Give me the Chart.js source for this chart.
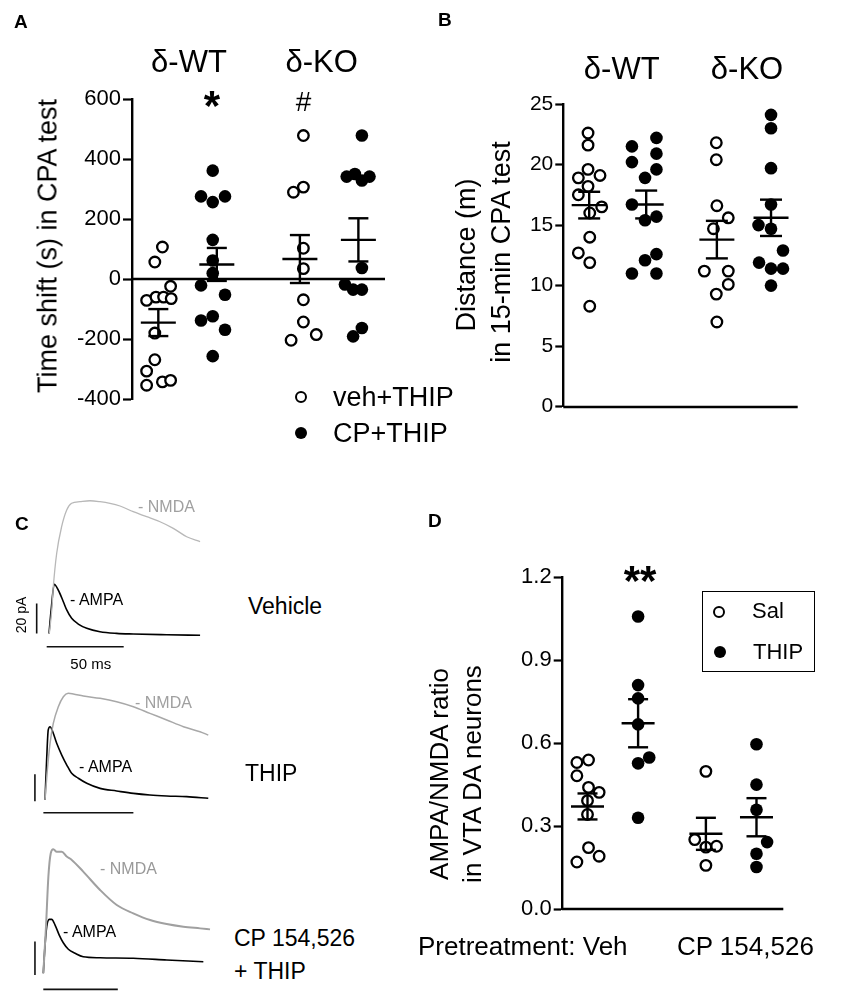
<!DOCTYPE html>
<html><head><meta charset="utf-8">
<script src="https://cdn.jsdelivr.net/npm/chart.js@4.4.1/dist/chart.umd.min.js"></script>
<style>
body{margin:0;background:#fff;}
#fig{position:relative;width:841px;height:1000px;overflow:hidden;font-family:"Liberation Sans",Arial,Helvetica,sans-serif;color:#000;background:#fff;}
canvas{position:absolute;}
.t{position:absolute;white-space:nowrap;line-height:1;}
</style></head><body>
<div id="fig">
<canvas id="cA" width="420" height="470" style="left:0;top:0"></canvas>
<canvas id="cB" width="421" height="470" style="left:420px;top:0"></canvas>
<canvas id="cC1" width="215" height="190" style="left:0;top:470px"></canvas>
<canvas id="cC2" width="215" height="150" style="left:0;top:670px"></canvas>
<canvas id="cC3" width="215" height="170" style="left:0;top:830px"></canvas>
<canvas id="cD" width="421" height="520" style="left:420px;top:480px"></canvas>
</div>
<script>
// ---------------- Panel A data (time shift, s) ----------------
const aTicks = [-400, -200, 0, 200, 400, 600];
const aGroupX = [1, 2, 3.42, 4.42];          // δ-WT veh, δ-WT CP, δ-KO veh, δ-KO CP
const aWtVeh = [107, 57, -24, -71, -60, -60, -65, -180, -269, -307, -354, -343, -338];
const aWtVehJit = [0.07, -0.06, 0.21, -0.2, -0.04, 0.09, 0.22, -0.06, -0.06, -0.2, -0.2, 0.07, 0.21];
const aWtCp = [362, 276, 257, 276, 131, 62, 20, -21, -52, -138, -124, -169, -257];
const aWtCpJit = [-0.07, -0.27, -0.07, 0.14, -0.07, -0.07, -0.07, -0.27, 0.14, -0.27, -0.07, 0.14, -0.07];
const aKoVeh = [479, 290, 307, 103, 35, -69, -143, -204, -185];
const aKoVehJit = [0.06, -0.11, 0.06, 0.06, 0.06, 0.06, 0.06, -0.15, 0.28];
const aKoCp = [479, 342, 351, 342, 329, 37, -18, -35, -35, -163, -191];
const aKoCpJit = [0.06, -0.2, -0.06, 0.19, 0.06, 0.06, -0.23, -0.09, 0.06, 0.06, -0.09];
const aMean = [-145, 49, 67, 131];
const aSem = [45, 55, 80, 72];

// ---------------- Panel B data (distance, m) ----------------
const bTicks = [0, 5, 10, 15, 20, 25];
const bGroupX = [1, 2, 3.24, 4.19];
const bWtVeh = [22.6, 21.6, 19.6, 19.1, 18.9, 18.2, 17.5, 16.5, 16.0, 14.0, 12.7, 11.9, 8.3];
const bWtVehJit = [-0.02, -0.02, -0.02, 0.19, -0.19, -0.02, -0.19, 0.22, 0.01, 0.01, -0.19, 0.01, 0.01];
const bWtCp = [21.5, 22.2, 20.2, 20.9, 19.6, 18.9, 16.7, 15.4, 15.7, 12.6, 12.1, 11.0, 11.0];
const bWtCpJit = [-0.25, 0.18, -0.25, 0.18, 0.18, -0.02, -0.25, -0.02, 0.18, 0.18, -0.02, -0.25, 0.18];
const bKoVeh = [21.8, 20.4, 16.6, 15.6, 14.7, 11.2, 11.2, 10.1, 9.3, 7.0];
const bKoVehJit = [-0.01, -0.01, 0, 0.2, -0.06, -0.22, 0.2, 0.2, -0.01, 0];
const bKoCp = [24.1, 23.0, 19.7, 16.7, 15.0, 14.7, 12.9, 11.9, 11.4, 11.4, 10.0];
const bKoCpJit = [0, 0, 0, 0, -0.22, 0, 0.21, -0.21, 0, 0.21, 0];
const bMean = [16.65, 16.7, 13.8, 15.6];
const bSem = [1.1, 1.15, 1.55, 1.5];

// ---------------- Panel C traces (time ms, current pA) ----------------
const cVehAmpaT = [0, 1.5, 3.4, 6.0, 9.3, 11.5, 14.7, 19.0, 24.5, 33.1, 43.9, 54.7, 76.4, 98.1];
const cVehAmpaI = [1, 18, 33.8, 30, 22.2, 16.7, 11.1, 7.3, 4.5, 2.2, 1.1, 0.7, 0.2, -0.2];
const cVehNmdaT = [0.2, 1.8, 2.8, 5.0, 8.2, 11.5, 14.7, 20.1, 26.6, 33.1, 39.6, 46.1, 54.7, 63.4, 72.1, 80.7, 89.4, 98.1];
const cVehNmdaI = [1.1, 16.7, 32.2, 54.5, 72.2, 83.3, 87.8, 88.9, 89.5, 88.9, 87.8, 86.0, 82.2, 78.9, 75.5, 71.1, 65.5, 62.2];
const cThipAmpaT = [0, 0.9, 1.8, 2.8, 4.3, 6.5, 9.3, 12.1, 14.8, 18.5, 23.2, 30.6, 39.8, 49.1, 58.3, 67.6, 78.7, 90.7];
const cThipAmpaI = [0, 29.6, 51.9, 54.3, 50.6, 42.0, 33.3, 25.9, 19.8, 16.1, 12.4, 8.6, 6.7, 4.9, 3.7, 3.0, 2.5, 1.3];
const cThipNmdaT = [0, 1.3, 2.8, 4.6, 7.4, 10.2, 12.9, 15.7, 21.3, 30.6, 39.8, 49.1, 58.3, 67.6, 76.9, 86.1, 90.7];
const cThipNmdaI = [0, 22.2, 42.0, 56.8, 69.1, 76.5, 79.0, 78.5, 77.0, 75.3, 72.8, 69.1, 64.2, 59.3, 54.3, 50.6, 48.1];
const cCpAmpaT = [0, 1.1, 2.3, 4.0, 5.6, 7.9, 10.7, 13.4, 16.8, 21.3, 26.8, 38.1, 60.4, 82.8, 107.4];
const cCpAmpaI = [0, 16.0, 27.9, 32.3, 32.3, 28.9, 22.9, 18.3, 14.4, 12.0, 9.9, 9.3, 9.0, 8.0, 6.9];
const cCpNmdaT = [0, 1.8, 3.4, 5.0, 6.7, 9.0, 12.4, 15.7, 19.1, 26.8, 38.1, 49.3, 60.4, 71.7, 82.8, 94.0, 105.2, 111.9];
const cCpNmdaI = [0, 27.9, 57.8, 71.9, 74.3, 72.8, 72.8, 69.9, 67.9, 60.9, 49.9, 40.9, 35.9, 31.9, 29.5, 27.9, 26.9, 26.3];
// scale bars: 20 pA (vertical) and 50 ms (horizontal)
const cBarPA = 20, cBarMS = 50;
const cVehBar = {t: -8.0, i0: 1, tb: -1.5, ib: -7.8};
const cThipBar = {t: -5.6, i0: -1, tb: -0.9, ib: -9.4};
const cCpBar = {t: -5.6, i0: -1, tb: 0, ib: -9.6};

// ---------------- Panel D data (AMPA/NMDA ratio) ----------------
const dTicks = [0, 0.3, 0.6, 0.9, 1.2];
const dTickLabels = ['0.0', '0.3', '0.6', '0.9', '1.2'];
const dGroupX = [1, 2, 3.34, 4.34];
const dVehSal = [0.530, 0.539, 0.482, 0.440, 0.422, 0.392, 0.342, 0.222, 0.170, 0.191];
const dVehSalJit = [-0.21, 0.02, -0.21, 0.02, 0.23, 0, 0, 0.02, -0.21, 0.23];
const dVehThip = [1.058, 0.810, 0.762, 0.668, 0.548, 0.527, 0.330];
const dVehThipJit = [0, 0, 0, 0, 0.22, 0, 0];
const dCpSal = [0.498, 0.251, 0.227, 0.224, 0.158];
const dCpSalJit = [0, -0.22, 0.21, 0, 0];
const dCpThip = [0.596, 0.450, 0.359, 0.242, 0.200, 0.152];
const dCpThipJit = [0, 0, 0, 0.21, 0, 0];
const dMean = [0.371, 0.672, 0.272, 0.332];
const dSem = [0.047, 0.087, 0.058, 0.069];

// ---------------- helpers ----------------
const FONT = '"Liberation Sans", Arial, Helvetica, sans-serif';
Chart.defaults.font.family = FONT;
Chart.defaults.color = '#000';
Chart.defaults.animation = false;

function pts(vals, jit, gx) { return vals.map((v, i) => ({x: gx + jit[i], y: v})); }

const openStyle = {pointStyle: 'circle', pointRadius: 5.3, pointBackgroundColor: '#fff', pointBorderColor: '#000', pointBorderWidth: 2.3, showLine: false};
const fillStyle = {pointStyle: 'circle', pointRadius: 6.3, pointBackgroundColor: '#000', pointBorderColor: '#000', pointBorderWidth: 0, showLine: false};

const statPlugin = {
  id: 'stat',
  beforeDatasetsDraw(chart, args, o) {
    const {ctx, chartArea, scales: {y}} = chart;
    const py = Math.round(y.getPixelForValue(0));
    ctx.save(); ctx.strokeStyle = '#000'; ctx.lineWidth = 2.4;
    ctx.beginPath(); ctx.moveTo(chartArea.left, py); ctx.lineTo(chartArea.right, py); ctx.stroke();
    ctx.restore();
  },
  afterDatasetsDraw(chart, args, o) {
    if (!o.pos) return;
    const {ctx, scales: {x, y}} = chart;
    ctx.save(); ctx.strokeStyle = '#000'; ctx.lineWidth = 2.4; ctx.lineCap = 'butt';
    const L = (x1, y1, x2, y2) => { ctx.beginPath(); ctx.moveTo(x1, y1); ctx.lineTo(x2, y2); ctx.stroke(); };
    o.pos.forEach((p, i) => {
      const cx = x.getPixelForValue(p);
      const m = y.getPixelForValue(o.mean[i]);
      const hi = y.getPixelForValue(o.mean[i] + o.sem[i]);
      const lo = y.getPixelForValue(o.mean[i] - o.sem[i]);
      L(cx - o.mw / 2, m, cx + o.mw / 2, m);
      L(cx, hi, cx, lo);
      L(cx - o.cw / 2, hi, cx + o.cw / 2, hi);
      L(cx - o.cw / 2, lo, cx + o.cw / 2, lo);
    });
    ctx.restore();
  }
};

function yAxis(min, max, ticks, labels, axisWidth, fontSize, tickLen) {
  return {
    type: 'linear', min, max, position: 'left',
    afterBuildTicks: s => { s.ticks = ticks.map(v => ({value: v})); },
    ticks: {font: {size: fontSize, family: FONT}, color: '#000', padding: 2,
      callback: (v, i) => labels ? labels[i] : String(v)},
    grid: {display: true, drawOnChartArea: false, drawTicks: true, tickLength: tickLen, tickWidth: 2.2, tickColor: '#000'},
    border: {display: true, width: 2.4, color: '#000'},
    afterFit: s => { s.width = axisWidth; }
  };
}

function scatterChart(id, datasets, xmin, xmax, yopts, padding, stat) {
  return new Chart(document.getElementById(id), {
    type: 'scatter',
    data: {datasets},
    options: {
      responsive: false, animation: false,
      layout: {padding},
      plugins: {legend: {display: false}, tooltip: {enabled: false}, stat},
      scales: {x: {type: 'linear', min: xmin, max: xmax, display: false}, y: yopts}
    },
    plugins: [statPlugin]
  });
}

// Panel A
scatterChart('cA', [
  Object.assign({label: 'veh+THIP', data: pts(aWtVeh, aWtVehJit, aGroupX[0]).concat(pts(aKoVeh, aKoVehJit, aGroupX[2]))}, openStyle),
  Object.assign({label: 'CP+THIP', data: pts(aWtCp, aWtCpJit, aGroupX[1]).concat(pts(aKoCp, aKoCpJit, aGroupX[3]))}, fillStyle)
], 0.55, 4.875, yAxis(-400, 600, aTicks, null, 132, 22, 9),
  {top: 99.3, bottom: 71, left: 0, right: 35},
  {pos: aGroupX, mean: aMean, sem: aSem, mw: 35, cw: 20});

// Panel B
scatterChart('cB', [
  Object.assign({label: 'veh+THIP', data: pts(bWtVeh, bWtVehJit, bGroupX[0]).concat(pts(bKoVeh, bKoVehJit, bGroupX[2]))}, openStyle),
  Object.assign({label: 'CP+THIP', data: pts(bWtCp, bWtCpJit, bGroupX[1]).concat(pts(bKoCp, bKoCpJit, bGroupX[3]))}, fillStyle)
], 0.546, 4.658, yAxis(0, 25, bTicks, null, 143.3, 21, 8),
  {top: 104, bottom: 63.3, left: 0, right: 43.3},
  {pos: bGroupX, mean: bMean, sem: bSem, mw: 35, cw: 22});

// Panel D
scatterChart('cD', [
  Object.assign({label: 'Sal', data: pts(dVehSal, dVehSalJit, dGroupX[0]).concat(pts(dCpSal, dCpSalJit, dGroupX[2]))}, openStyle),
  Object.assign({label: 'THIP', data: pts(dVehThip, dVehThipJit, dGroupX[1]).concat(pts(dCpThip, dCpThipJit, dGroupX[3]))}, fillStyle)
], 0.49, 4.87, yAxis(0, 1.2, dTicks, dTickLabels, 141.7, 22, 8),
  {top: 97.3, bottom: 91, left: 0, right: 57.7},
  {pos: dGroupX, mean: dMean, sem: dSem, mw: 33, cw: 20});

// Panel C traces
function xy(t, v) { return t.map((tt, i) => ({x: tt, y: v[i]})); }
function traceChart(id, nT, nI, aT, aI, bar, xmin, xmax, ymin, ymax, gray, grayW) {
  const line = (data, color, w) => ({data, showLine: true, borderColor: color, borderWidth: w, pointRadius: 0, fill: false, cubicInterpolationMode: 'monotone'});
  const straight = (data, color, w) => ({data, showLine: true, borderColor: color, borderWidth: w, pointRadius: 0, fill: false, tension: 0});
  new Chart(document.getElementById(id), {
    type: 'scatter',
    data: {datasets: [
      line(xy(nT, nI), gray, grayW),
      line(xy(aT, aI), '#000', 1.6),
      straight([{x: bar.t, y: bar.i0}, {x: bar.t, y: bar.i0 + cBarPA}], '#111', 1.6),
      straight([{x: bar.tb, y: bar.ib}, {x: bar.tb + cBarMS, y: bar.ib}], '#111', 1.6)
    ]},
    options: {
      responsive: false, animation: false,
      layout: {padding: 0},
      plugins: {legend: {display: false}, tooltip: {enabled: false}},
      scales: {x: {type: 'linear', min: xmin, max: xmax, display: false},
               y: {type: 'linear', min: ymin, max: ymax, display: false}}
    }
  });
}
traceChart('cC1', cVehNmdaT, cVehNmdaI, cVehAmpaT, cVehAmpaI, cVehBar, -31.82, 107.79, -16.67, 110, '#b8b8b8', 1.3);
traceChart('cC2', cThipNmdaT, cThipNmdaI, cThipAmpaT, cThipAmpaI, cThipBar, -25, 94.44, -14.81, 96.3, '#a8a8a8', 1.5);
traceChart('cC3', cCpNmdaT, cCpNmdaI, cCpAmpaT, cCpAmpaI, cCpBar, -29.06, 115.23, -15.99, 85.81, '#a0a0a0', 2);

// ---------------- text ----------------
const fig = document.getElementById('fig');
function T(s, x, y, size, o) {
  o = o || {};
  const d = document.createElement('div');
  d.className = 't';
  d.textContent = s;
  d.style.left = x + 'px'; d.style.top = y + 'px';
  d.style.fontSize = size + 'px';
  if (o.bold) d.style.fontWeight = 'bold';
  if (o.color) d.style.color = o.color;
  const ax = o.anchor === 'left' ? '0' : '-50%';
  d.style.transform = 'translate(' + ax + ',-50%)' + (o.rot ? ' rotate(-90deg)' : '');
  fig.appendChild(d);
  return d;
}
function dot(x, y, filled) {
  const d = document.createElement('div');
  d.style.position = 'absolute';
  d.style.width = '12px'; d.style.height = '12px'; d.style.boxSizing = 'border-box';
  d.style.borderRadius = '50%';
  d.style.left = (x - 6) + 'px'; d.style.top = (y - 6) + 'px';
  d.style.background = filled ? '#000' : '#fff';
  d.style.border = filled ? 'none' : '2.3px solid #000';
  fig.appendChild(d);
}
// panel letters
T('A', 14, 21, 19, {bold: true, anchor: 'left'});
T('B', 438, 19, 19, {bold: true, anchor: 'left'});
T('C', 15, 523, 19, {bold: true, anchor: 'left'});
T('D', 428, 520, 19, {bold: true, anchor: 'left'});
// Panel A
T('δ-WT', 189, 61, 31);
T('δ-KO', 321.7, 61, 31);
T('*', 212, 106, 42, {bold: true});
T('#', 303.5, 102, 28);
T('Time shift (s) in CPA test', 48, 246, 27, {rot: true});
dot(301, 397, false); T('veh+THIP', 333, 397, 27, {anchor: 'left'});
dot(301, 433, true); T('CP+THIP', 333, 433, 27, {anchor: 'left'});
// Panel B
T('δ-WT', 621.7, 67.5, 31);
T('δ-KO', 747, 67.5, 31);
T('Distance (m)', 465.7, 255, 27, {rot: true});
T('in 15-min CPA test', 500.7, 252, 27, {rot: true});
// Panel C
T('- NMDA', 138, 507, 16, {anchor: 'left', color: '#a0a0a0'});
T('- AMPA', 70, 600, 16, {anchor: 'left'});
T('20 pA', 21, 615, 14, {rot: true});
T('50 ms', 90.8, 662.5, 15);
T('Vehicle', 248, 606, 23, {anchor: 'left'});
T('- NMDA', 135, 703, 16, {anchor: 'left', color: '#a0a0a0'});
T('- AMPA', 79, 767, 16, {anchor: 'left'});
T('THIP', 245, 773, 23, {anchor: 'left'});
T('- NMDA', 100, 869, 16, {anchor: 'left', color: '#999'});
T('- AMPA', 63, 932, 16, {anchor: 'left'});
T('CP 154,526', 234, 938, 23, {anchor: 'left'});
T('+ THIP', 234, 971, 23, {anchor: 'left'});
// Panel D
T('**', 640, 581, 42, {bold: true});
T('AMPA/NMDA ratio', 439.2, 774, 26, {rot: true});
T('in VTA DA neurons', 471.7, 774, 26, {rot: true});
const box = document.createElement('div');
Object.assign(box.style, {position: 'absolute', left: '702px', top: '591px', width: '113px', height: '81px', border: '1.5px solid #000', boxSizing: 'border-box'});
fig.appendChild(box);
dot(719, 611.7, false); T('Sal', 752, 611, 22, {anchor: 'left'});
dot(720, 651.7, true); T('THIP', 753, 652, 22, {anchor: 'left'});
T('Pretreatment: Veh', 418, 945.5, 26, {anchor: 'left'});
T('CP 154,526', 677, 945.5, 26, {anchor: 'left'});
</script>
</body></html>
